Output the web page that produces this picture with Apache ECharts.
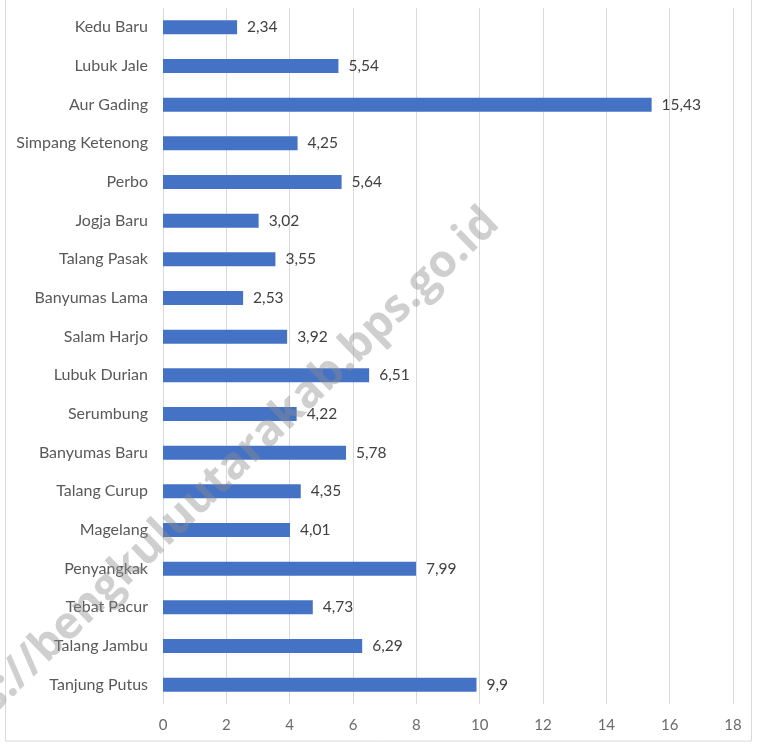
<!DOCTYPE html>
<html><head><meta charset="utf-8">
<script src="https://cdn.jsdelivr.net/npm/echarts@6/dist/echarts.min.js"></script>
<style>html,body{margin:0;padding:0;background:#fff}#c{width:758px;height:744px}</style>
</head><body><div id="c"></div>
<script>
const categories = ["Kedu Baru","Lubuk Jale","Aur Gading","Simpang Ketenong","Perbo","Jogja Baru","Talang Pasak","Banyumas Lama","Salam Harjo","Lubuk Durian","Serumbung","Banyumas Baru","Talang Curup","Magelang","Penyangkak","Tebat Pacur","Talang Jambu","Tanjung Putus"];
const values = [2.34,5.54,15.43,4.25,5.64,3.02,3.55,2.53,3.92,6.51,4.22,5.78,4.35,4.01,7.99,4.73,6.29,9.9];
const xTicks = [0,2,4,6,8,10,12,14,16,18];
const watermark = "https://bengkuluutarakab.bps.go.id";

const chart = echarts.init(document.getElementById('c'));
const font = 'Lato';
chart.setOption({
  animation: false,
  backgroundColor: '#fff',
  grid: {left: 163, right: 25, top: 8, bottom: 40, containLabel: false},
  xAxis: {
    type: 'value', min: xTicks[0], max: xTicks[xTicks.length-1], interval: 2,
    axisLine: {show: false}, axisTick: {show: false},
    splitLine: {show: true, lineStyle: {color: '#d9d9d9', width: 1}},
    axisLabel: {color: '#6b6b6b', fontFamily: font, fontSize: 15, margin: 14}
  },
  yAxis: {
    type: 'category', data: categories, inverse: true,
    axisLine: {show: false}, axisTick: {show: false},
    axisLabel: {color: '#595959', fontFamily: font, fontSize: 16, margin: 15}
  },
  series: [{
    type: 'bar', data: values, barWidth: 14,
    itemStyle: {color: '#4472C4'},
    label: {show: true, position: 'right', distance: 10, color: '#404040', fontFamily: font, fontSize: 15.5,
      formatter: p => String(p.value).replace('.', ',')}
  }],
  graphic: [
    {type: 'rect', shape: {x: 5.5, y: -2, width: 746, height: 743}, style: {fill: 'none', stroke: '#d9d9d9', lineWidth: 1}, silent: true, z: 0},
    {type: 'text', x: 492, y: 216, rotation: 44*Math.PI/180, z: 100, silent: true,
      style: {text: watermark, fill: 'rgba(140,140,140,0.42)', font: 'bold 45px "Open Sans"', align: 'right', verticalAlign: 'middle'}}
  ]
});
</script></body></html>
